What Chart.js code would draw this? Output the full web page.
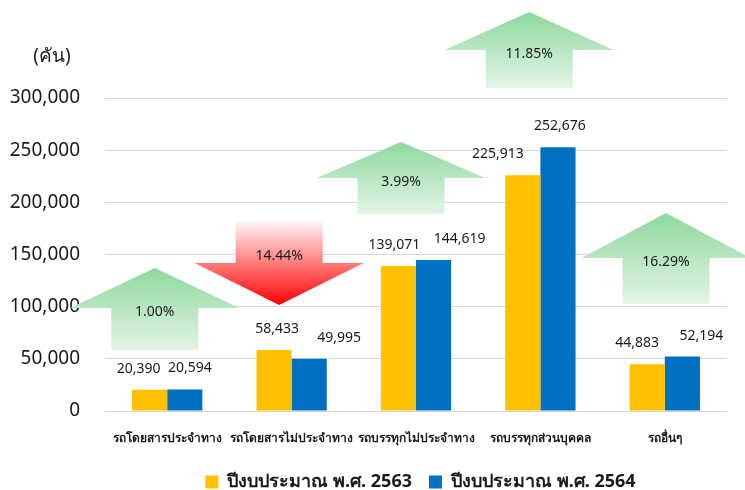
<!DOCTYPE html>
<html>
<head>
<meta charset="utf-8">
<script src="https://cdn.jsdelivr.net/npm/chart.js@4.4.1/dist/chart.umd.min.js"></script>
<style>
  html, body { margin: 0; padding: 0; background: #fff; }
  #wrap { width: 745px; height: 490px; position: relative; }
</style>
</head>
<body>
<div id="wrap"><canvas id="vehChart"></canvas></div>
<script>
// --- DATA ---
const categories = ['รถโดยสารประจำทาง', 'รถโดยสารไม่ประจำทาง', 'รถบรรทุกไม่ประจำทาง', 'รถบรรทุกส่วนบุคคล', 'รถอื่นๆ'];
const seriesNames = ['ปีงบประมาณ พ.ศ. 2563', 'ปีงบประมาณ พ.ศ. 2564'];
const values2563 = [20390, 58433, 139071, 225913, 44883];
const values2564 = [20594, 49995, 144619, 252676, 52194];
const yTicks = [0, 50000, 100000, 150000, 200000, 250000, 300000];
const unitLabel = '(คัน)';

// change arrows (value units on the y scale)
const changeLabels = ['1.00%', '14.44%', '3.99%', '11.85%', '16.29%'];
const changeDir = ['up', 'down', 'up', 'up', 'up'];
const arrowTip = [137000, 101600, 257800, 382400, 189800];
const arrowHeadBase = [98700, 141900, 223300, 346000, 146600];
const arrowTail = [58500, 181000, 188800, 309600, 102600];

// --- STYLE ---
const FONT = "'Noto Sans', Tahoma, sans-serif";
const colors = ['#FFC000', '#0070C0'];
const arrowShift = [-0.1, -0.1, -0.12, -0.09, 0.01];   // category units
const labelNudge = [[-11, 3, -4, -25, -10], [5, 30, 26, 2, 19]];

const arrowPlugin = {
    id: 'arrows',
    afterDatasetsDraw(chart) {
        const { ctx, scales: { x, y } } = chart;
        const unit = x.getPixelForValue(1) - x.getPixelForValue(0);
        ctx.save();
        changeLabels.forEach((txt, i) => {
            const cx = x.getPixelForValue(i + arrowShift[i]);
            const tip = y.getPixelForValue(arrowTip[i]);
            const base = y.getPixelForValue(arrowHeadBase[i]);
            const tail = y.getPixelForValue(arrowTail[i]);
            const hw = unit * 0.68, sw = unit * 0.35;
            const g = ctx.createLinearGradient(0, tip, 0, tail);
            if (changeDir[i] === 'up') {
                g.addColorStop(0, '#8ed89d');
                g.addColorStop(1, '#e3f5e7');
            } else {
                g.addColorStop(0, '#ff0000');
                g.addColorStop(1, '#fff4f4');
            }
            ctx.fillStyle = g;
            ctx.beginPath();
            ctx.moveTo(cx, tip);
            ctx.lineTo(cx + hw, base);
            ctx.lineTo(cx + sw, base);
            ctx.lineTo(cx + sw, tail);
            ctx.lineTo(cx - sw, tail);
            ctx.lineTo(cx - sw, base);
            ctx.lineTo(cx - hw, base);
            ctx.closePath();
            ctx.fill();

            ctx.fillStyle = '#1a1a1a';
            ctx.font = '14px ' + FONT;
            ctx.textAlign = 'center';
            ctx.textBaseline = 'middle';
            const ty = changeDir[i] === 'up' ? base + 4 : base - 7;
            ctx.fillText(txt, cx, ty);
        });
        ctx.restore();
    }
};

const labelPlugin = {
    id: 'barLabels',
    afterUpdate(chart) {
        // the legend sits a bit right of centre in the original
        const lg = chart.legend;
        lg.left += 57; lg.right += 57; lg.top += 3; lg.bottom += 3;
    },
    afterDatasetsDraw(chart) {
        const { ctx } = chart;
        ctx.save();
        ctx.fillStyle = '#1a1a1a';
        ctx.font = '14px ' + FONT;
        ctx.textAlign = 'center';
        ctx.textBaseline = 'middle';
        chart.data.datasets.forEach((ds, d) => {
            chart.getDatasetMeta(d).data.forEach((bar, i) => {
                ctx.fillText(ds.data[i].toLocaleString('en-US'), bar.x + labelNudge[d][i], bar.y - 21);
            });
        });
        // unit label over the y axis
        const y = chart.scales.y;
        ctx.font = '19px ' + FONT;
        ctx.fillText(unitLabel, 52, y.getPixelForValue(300000) - 41);
        ctx.restore();
    }
};

new Chart(document.getElementById('vehChart'), {
    type: 'bar',
    data: {
        labels: categories,
        datasets: [
            { label: seriesNames[0], data: values2563, backgroundColor: colors[0] },
            { label: seriesNames[1], data: values2564, backgroundColor: colors[1] }
        ]
    },
    options: {
        responsive: true,
        maintainAspectRatio: false,
        animation: false,
        layout: { padding: { top: 98, right: 18, left: 0, bottom: 0 } },
        datasets: { bar: { barPercentage: 1, categoryPercentage: 0.565 } },
        plugins: {
            legend: {
                position: 'bottom',
                maxHeight: 37,
                labels: {
                    color: '#1a1a1a',
                    font: { family: FONT, size: 18, weight: 'bold' },
                    boxWidth: 13, boxHeight: 13, padding: 17
                }
            },
            tooltip: { enabled: false }
        },
        scales: {
            x: {
                grid: { display: false },
                border: { display: false },
                afterFit: (axis) => { axis.height = 42; },
                ticks: { color: '#1a1a1a', font: { family: FONT, size: 12, weight: 'bold' }, padding: 12, maxRotation: 0, autoSkip: false }
            },
            y: {
                min: 0, max: 300000,
                afterBuildTicks: (axis) => { axis.ticks = yTicks.map(v => ({ value: v })); },
                afterFit: (axis) => { axis.width = 105; },
                grid: { color: '#d9d9d9', drawTicks: false },
                border: { display: false },
                ticks: {
                    color: '#1a1a1a', padding: 25,
                    font: { family: FONT, size: 19 },
                    callback: (v) => v.toLocaleString('en-US')
                }
            }
        }
    },
    plugins: [arrowPlugin, labelPlugin]
});
</script>
</body>
</html>
